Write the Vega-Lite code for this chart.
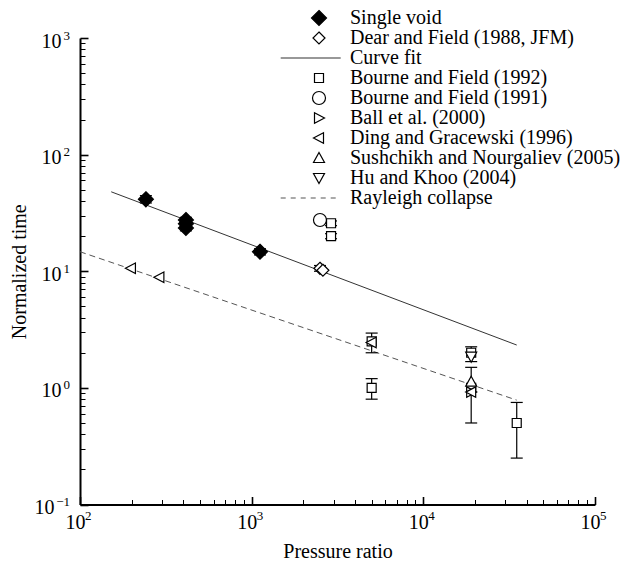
{
  "$schema": "https://vega.github.io/schema/vega-lite/v6.json",
  "width": 515,
  "height": 466.5,
  "autosize": {"type": "none"},
  "padding": {"left": 80, "top": 38, "right": 43, "bottom": 62.5},
  "background": "white",
  "config": {
    "view": {"stroke": null},
    "font": "Liberation Serif"
  },
  "datasets": {
    "pts": [
      {"series": "Single void", "P": 242, "t": 41.4, "lo": 38.5, "hi": 44.5},
      {"series": "Single void", "P": 414, "t": 27.5, "lo": 26, "hi": 29},
      {"series": "Single void", "P": 414, "t": 25.5, "lo": 24, "hi": 27},
      {"series": "Single void", "P": 414, "t": 23.5, "lo": 22.2, "hi": 24.8},
      {"series": "Single void", "P": 1118, "t": 14.7, "lo": 13.8, "hi": 15.6},
      {"series": "Dear and Field (1988, JFM)", "P": 2500, "t": 10.6, "lo": 10, "hi": 11.2},
      {"series": "Dear and Field (1988, JFM)", "P": 2600, "t": 10.2, "lo": null, "hi": null},
      {"series": "Bourne and Field (1991)", "P": 2500, "t": 27.5, "lo": null, "hi": null},
      {"series": "Bourne and Field (1992)", "P": 2900, "t": 25.8, "lo": 24.6, "hi": 27},
      {"series": "Bourne and Field (1992)", "P": 2900, "t": 20, "lo": 19, "hi": 21},
      {"series": "Bourne and Field (1992)", "P": 5000, "t": 2.5, "lo": 2.0, "hi": 2.95},
      {"series": "Bourne and Field (1992)", "P": 5000, "t": 1.0, "lo": 0.8, "hi": 1.2},
      {"series": "Bourne and Field (1992)", "P": 19000, "t": 2.0, "lo": 1.68, "hi": 2.25},
      {"series": "Bourne and Field (1992)", "P": 19000, "t": 1.0, "lo": 0.5, "hi": 1.5},
      {"series": "Bourne and Field (1992)", "P": 35000, "t": 0.5, "lo": 0.25, "hi": 0.75},
      {"series": "Ball et al. (2000)", "P": 19000, "t": 0.92, "lo": null, "hi": null},
      {"series": "Ding and Gracewski (1996)", "P": 198, "t": 10.6, "lo": null, "hi": null},
      {"series": "Ding and Gracewski (1996)", "P": 290, "t": 8.87, "lo": null, "hi": null},
      {"series": "Ding and Gracewski (1996)", "P": 5000, "t": 2.45, "lo": null, "hi": null},
      {"series": "Ding and Gracewski (1996)", "P": 19000, "t": 0.92, "lo": null, "hi": null},
      {"series": "Sushchikh and Nourgaliev (2005)", "P": 19000, "t": 1.13, "lo": null, "hi": null},
      {"series": "Hu and Khoo (2004)", "P": 19000, "t": 1.85, "lo": null, "hi": null}
    ],
    "fits": [
      {"series": "Curve fit", "P": 152, "t": 48},
      {"series": "Curve fit", "P": 35000, "t": 2.33},
      {"series": "Rayleigh collapse", "P": 100, "t": 14.7},
      {"series": "Rayleigh collapse", "P": 35000, "t": 0.785}
    ]
  },
  "resolve": {"axis": {"x": "independent", "y": "independent"}},
  "layer": [
    {
      "data": {"name": "fits"},
      "transform": [{"filter": "datum.series == 'Curve fit'"}],
      "mark": {"type": "line", "color": "#333333", "strokeWidth": 1},
      "encoding": {
        "x": {
          "field": "P", "type": "quantitative",
          "scale": {"type": "log", "domain": [100, 100000], "nice": false},
          "axis": {
            "orient": "bottom",
            "values": [100, 200, 300, 400, 500, 600, 700, 800, 900, 1000, 2000, 3000, 4000, 5000, 6000, 7000, 8000, 9000, 10000, 20000, 30000, 40000, 50000, 60000, 70000, 80000, 90000, 100000],
            "labelExpr": "abs(log(datum.value)/LN10 - round(log(datum.value)/LN10)) < 1e-6 ? '10' : ''",
            "labelFont": "Liberation Serif", "labelFontSize": 20, "labelColor": "black",
            "labelAlign": "center", "labelBaseline": "top",
            "labelOffset": -5, "labelPadding": 16,
            "labelFlush": false, "labelOverlap": false, "labelBound": false,
            "tickSize": {"condition": {"test": "abs(log(datum.value)/LN10 - round(log(datum.value)/LN10)) < 1e-6", "value": -8}, "value": -5},
            "tickWidth": {"condition": {"test": "abs(log(datum.value)/LN10 - round(log(datum.value)/LN10)) < 1e-6", "value": 1.6}, "value": 1},
            "tickColor": "black",
            "domainColor": "black", "domainWidth": 2,
            "grid": false,
            "title": "Pressure ratio",
            "titleFont": "Liberation Serif", "titleFontSize": 20, "titleFontWeight": "normal", "titleColor": "black",
            "titlePadding": 6
          }
        },
        "y": {
          "field": "t", "type": "quantitative",
          "scale": {"type": "log", "domain": [0.1, 1000], "nice": false},
          "axis": {
            "orient": "left",
            "values": [0.1, 0.2, 0.3, 0.4, 0.5, 0.6, 0.7, 0.8, 0.9, 1, 2, 3, 4, 5, 6, 7, 8, 9, 10, 20, 30, 40, 50, 60, 70, 80, 90, 100, 200, 300, 400, 500, 600, 700, 800, 900, 1000],
            "labelExpr": "abs(log(datum.value)/LN10 - round(log(datum.value)/LN10)) < 1e-6 ? '10' : ''",
            "labelFont": "Liberation Serif", "labelFontSize": 20, "labelColor": "black",
            "labelAlign": "right", "labelBaseline": "middle",
            "labelOffset": 3,
            "labelPadding": {"condition": {"test": "datum.value < 0.5", "value": 34}, "value": 27},
            "labelFlush": false, "labelOverlap": false, "labelBound": false,
            "tickSize": {"condition": {"test": "abs(log(datum.value)/LN10 - round(log(datum.value)/LN10)) < 1e-6", "value": -8}, "value": -5},
            "tickWidth": {"condition": {"test": "abs(log(datum.value)/LN10 - round(log(datum.value)/LN10)) < 1e-6", "value": 1.6}, "value": 1},
            "tickColor": "black",
            "domainColor": "black", "domainWidth": 2,
            "grid": false,
            "title": "Normalized time",
            "titleFont": "Liberation Serif", "titleFontSize": 20, "titleFontWeight": "normal", "titleColor": "black",
            "titlePadding": 5
          }
        }
      }
    },
    {
      "data": {"name": "fits"},
      "transform": [{"filter": "datum.series == 'Rayleigh collapse'"}],
      "mark": {"type": "line", "color": "#555555", "strokeWidth": 1, "strokeDash": [6, 4]},
      "encoding": {
        "x": {
          "field": "P", "type": "quantitative",
          "scale": {"type": "log", "domain": [100, 100000], "nice": false},
          "axis": {
            "orient": "bottom",
            "values": [100, 1000, 10000, 100000],
            "labelExpr": "'' + round(log(datum.value)/LN10)",
            "labelFont": "Liberation Serif", "labelFontSize": 13, "labelColor": "black",
            "labelAlign": "left", "labelBaseline": "top",
            "labelOffset": 4.5, "labelPadding": 4.5,
            "labelFlush": false, "labelOverlap": false, "labelBound": false,
            "ticks": false, "domain": false, "grid": false, "title": null
          }
        },
        "y": {
          "field": "t", "type": "quantitative",
          "scale": {"type": "log", "domain": [0.1, 1000], "nice": false},
          "axis": {
            "orient": "left",
            "values": [0.1, 1, 10, 100, 1000],
            "labelExpr": "round(log(datum.value)/LN10) < 0 ? '−' + abs(round(log(datum.value)/LN10)) : '' + round(log(datum.value)/LN10)",
            "labelFont": "Liberation Serif", "labelFontSize": 13, "labelColor": "black",
            "labelAlign": "right", "labelBaseline": "middle",
            "labelOffset": -3, "labelPadding": 10.5,
            "labelFlush": false, "labelOverlap": false, "labelBound": false,
            "ticks": false, "domain": false, "grid": false, "title": null
          }
        }
      }
    },
    {
      "data": {"name": "pts"},
      "transform": [{"filter": "datum.lo != null"}],
      "mark": {"type": "rule", "color": "black", "strokeWidth": 1.2},
      "encoding": {
        "x": {"field": "P", "type": "quantitative", "scale": {"type": "log", "domain": [100, 100000], "nice": false}, "axis": null},
        "y": {"field": "lo", "type": "quantitative", "scale": {"type": "log", "domain": [0.1, 1000], "nice": false}, "axis": null},
        "y2": {"field": "hi"}
      }
    },
    {
      "data": {"name": "pts"},
      "transform": [{"filter": "datum.lo != null"}],
      "mark": {"type": "tick", "orient": "horizontal", "size": 12, "thickness": 1.2, "color": "black", "opacity": 1},
      "encoding": {
        "x": {"field": "P", "type": "quantitative", "scale": {"type": "log", "domain": [100, 100000], "nice": false}, "axis": null},
        "y": {"field": "lo", "type": "quantitative", "scale": {"type": "log", "domain": [0.1, 1000], "nice": false}, "axis": null}
      }
    },
    {
      "data": {"name": "pts"},
      "transform": [{"filter": "datum.hi != null"}],
      "mark": {"type": "tick", "orient": "horizontal", "size": 12, "thickness": 1.2, "color": "black", "opacity": 1},
      "encoding": {
        "x": {"field": "P", "type": "quantitative", "scale": {"type": "log", "domain": [100, 100000], "nice": false}, "axis": null},
        "y": {"field": "hi", "type": "quantitative", "scale": {"type": "log", "domain": [0.1, 1000], "nice": false}, "axis": null}
      }
    },
    {
      "data": {"name": "pts"},
      "mark": {"type": "point", "filled": true, "strokeWidth": 1.2, "size": 100, "opacity": 1},
      "encoding": {
        "x": {"field": "P", "type": "quantitative", "scale": {"type": "log", "domain": [100, 100000], "nice": false}, "axis": null},
        "y": {"field": "t", "type": "quantitative", "scale": {"type": "log", "domain": [0.1, 1000], "nice": false}, "axis": null},
        "shape": {
          "field": "series", "type": "nominal",
          "scale": {
            "domain": ["Single void", "Dear and Field (1988, JFM)", "Curve fit", "Bourne and Field (1992)", "Bourne and Field (1991)", "Ball et al. (2000)", "Ding and Gracewski (1996)", "Sushchikh and Nourgaliev (2005)", "Hu and Khoo (2004)", "Rayleigh collapse"],
            "range": [
              "M0,-1.5L1.5,0L0,1.5L-1.5,0Z",
              "M0,-1.2L1.2,0L0,1.2L-1.2,0Z",
              "M-7.66,0H4.34",
              "M-0.9,-0.9H0.9V0.9H-0.9Z",
              "M-1.3,0A1.3,1.3,0,1,1,1.3,0A1.3,1.3,0,1,1,-1.3,0Z",
              "M-0.9,-1.05L1.1,0L-0.9,1.05Z",
              "M0.9,-1.05L-1.1,0L0.9,1.05Z",
              "M0,-1.1L1.1,0.9L-1.1,0.9Z",
              "M0,1.1L1.1,-0.9L-1.1,-0.9Z",
              "M-7.66,0H-6.66M-5.66,0H-4.66M-3.66,0H-2.66M-1.66,0H-0.66M0.34,0H1.34M2.34,0H3.34"
            ]
          },
          "legend": {
            "title": null, "orient": "none", "legendX": 229, "legendY": -30,
            "padding": 0, "labelFont": "Liberation Serif", "labelFontSize": 20, "labelColor": "black",
            "labelLimit": 400, "labelOffset": 21, "rowPadding": 0, "symbolSize": 100, "symbolOffset": 0,
            "symbolStrokeWidth": 1.2, "symbolLimit": 0
          }
        },
        "fill": {
          "field": "series", "type": "nominal",
          "scale": {
            "domain": ["Single void", "Dear and Field (1988, JFM)", "Curve fit", "Bourne and Field (1992)", "Bourne and Field (1991)", "Ball et al. (2000)", "Ding and Gracewski (1996)", "Sushchikh and Nourgaliev (2005)", "Hu and Khoo (2004)", "Rayleigh collapse"],
            "range": ["black", "white", "white", "white", "white", "white", "white", "white", "white", "white"]
          },
          "legend": {
            "title": null, "orient": "none", "legendX": 229, "legendY": -30,
            "padding": 0, "labelFont": "Liberation Serif", "labelFontSize": 20, "labelColor": "black",
            "labelLimit": 400, "labelOffset": 21, "rowPadding": 0, "symbolSize": 100, "symbolOffset": 0,
            "symbolStrokeWidth": 1.2, "symbolLimit": 0
          }
        },
        "stroke": {
          "field": "series", "type": "nominal",
          "scale": {
            "domain": ["Single void", "Dear and Field (1988, JFM)", "Curve fit", "Bourne and Field (1992)", "Bourne and Field (1991)", "Ball et al. (2000)", "Ding and Gracewski (1996)", "Sushchikh and Nourgaliev (2005)", "Hu and Khoo (2004)", "Rayleigh collapse"],
            "range": ["black", "black", "#333333", "black", "black", "black", "black", "black", "black", "#555555"]
          },
          "legend": {
            "title": null, "orient": "none", "legendX": 229, "legendY": -30,
            "padding": 0, "labelFont": "Liberation Serif", "labelFontSize": 20, "labelColor": "black",
            "labelLimit": 400, "labelOffset": 21, "rowPadding": 0, "symbolSize": 100, "symbolOffset": 0,
            "symbolStrokeWidth": 1.2, "symbolLimit": 0
          }
        }
      }
    }
  ]
}
